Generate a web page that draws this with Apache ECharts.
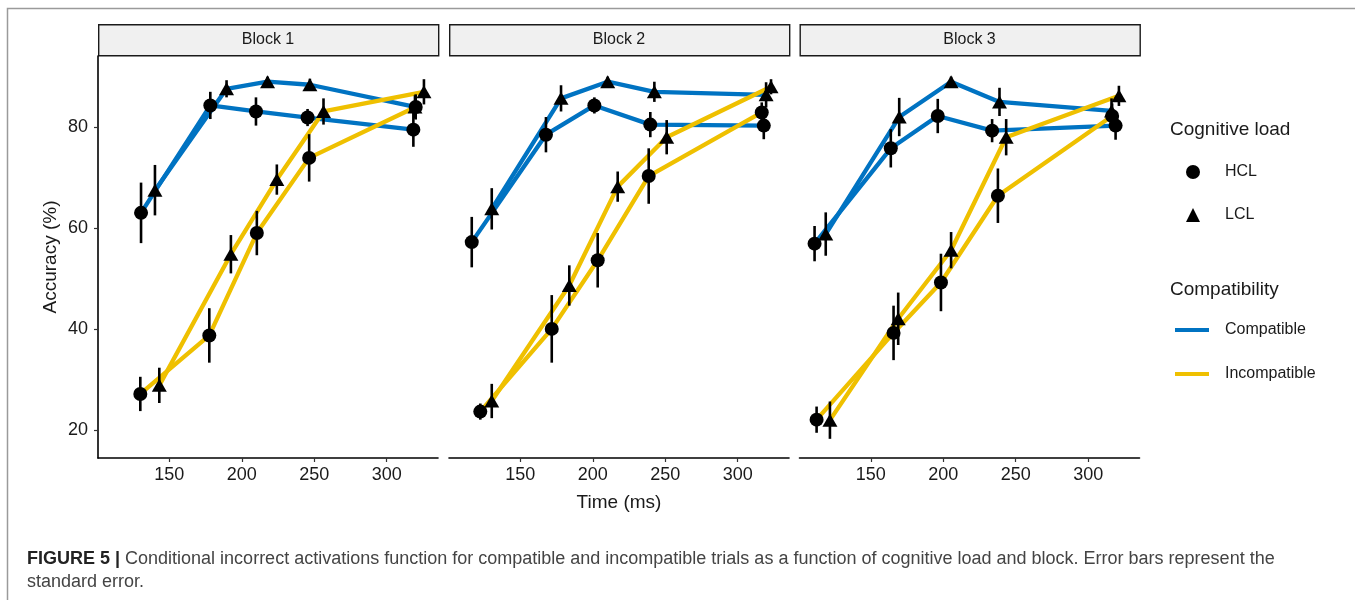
<!DOCTYPE html>
<html>
<head>
<meta charset="utf-8">
<script src="https://cdn.jsdelivr.net/npm/echarts@6/dist/echarts.min.js"></script>
<style>
html,body{margin:0;padding:0;background:#fff;}
#chart{width:1355px;height:600px;}
</style>
</head>
<body>
<div id="chart"></div>
<script>
// ---------------- data ----------------
const blocks = ['Block 1', 'Block 2', 'Block 3'];
const xTicks = [150, 200, 250, 300];
const yTicks = [20, 40, 60, 80];

// time (ms) per bin, per block
const timeCompHCL = [[130.5,178.3,209.8,245.4,318.4],[116.5,167.7,201.1,239.7,318.0],[111.2,163.8,196.2,233.7,318.9]];
const accCompHCL  = [[63.0,84.3,83.1,81.9,79.5],[57.2,78.5,84.3,80.5,80.3],[56.9,75.8,82.2,79.3,80.3]];
const seCompHCL   = [[6.0,2.7,2.8,1.7,3.4],[5.0,3.5,1.6,2.5,2.7],[3.5,3.8,3.4,2.3,2.8]];

const timeCompLCL = [[140.1,189.5,217.8,247.0,319.5],[130.3,178.1,210.3,242.5,319.6],[118.9,169.6,205.4,238.8,316.1]];
const accCompLCL  = [[67.5,87.6,89.0,88.4,84.0],[63.8,85.7,89.0,87.0,86.4],[58.8,82.0,89.0,85.0,83.2]];
const seCompLCL   = [[5.0,1.7,1.0,1.2,2.3],[4.1,2.6,1.0,2.0,2.5],[4.3,3.8,1.0,2.8,2.5]];

const timeIncHCL  = [[130.0,177.6,210.4,246.5,320.0],[122.4,171.7,203.4,238.6,316.6],[112.6,165.7,198.4,237.7,316.5]];
const accIncHCL   = [[27.1,38.7,59.0,73.9,84.0],[23.6,40.0,53.6,70.3,82.9],[22.0,39.2,49.2,66.4,82.2]];
const seIncHCL    = [[3.4,5.4,4.4,4.7,2.5],[1.6,6.7,5.4,5.5,2.0],[2.6,5.4,5.7,5.4,2.5]];

const timeIncLCL  = [[143.1,192.5,224.2,256.4,325.7],[130.3,183.8,217.2,251.0,323.0],[121.8,168.9,205.4,243.4,321.2]];
const accIncLCL   = [[28.8,54.8,69.6,83.1,87.0],[25.7,48.6,68.2,78.0,88.0],[21.9,42.0,55.6,78.0,86.2]];
const seIncLCL    = [[3.5,3.8,3.0,2.6,2.5],[3.4,4.0,3.0,3.4,1.5],[3.7,5.2,3.6,3.6,2.0]];

// ---------------- style / layout ----------------
const BLUE = '#0073C2', YELLOW = '#EFC000';
const FONT = '"Liberation Sans", Arial, Helvetica, sans-serif';
const panelLeft = [98, 449, 799.5];
const panelW = 340, panelTop = 56, panelH = 402;
const XMIN = 100.8, XMAX = 335.4, YMIN = 14.4, YMAX = 94.1;

const conds = [
  {name:'Compatible', load:'HCL', color:BLUE, t:timeCompHCL, a:accCompHCL, s:seCompHCL},
  {name:'Compatible', load:'LCL', color:BLUE, t:timeCompLCL, a:accCompLCL, s:seCompLCL},
  {name:'Incompatible', load:'HCL', color:YELLOW, t:timeIncHCL, a:accIncHCL, s:seIncHCL},
  {name:'Incompatible', load:'LCL', color:YELLOW, t:timeIncLCL, a:accIncLCL, s:seIncLCL}
];

const grids = [], xAxes = [], yAxes = [], series = [], graphics = [];

blocks.forEach((b, bi) => {
  grids.push({left: panelLeft[bi], top: panelTop, width: panelW, height: panelH, containLabel: false});
  xAxes.push({
    type: 'value', gridIndex: bi, min: XMIN, max: XMAX,
    axisLine: {show: true, onZero: false, lineStyle: {color: '#000', width: 1.6}},
    axisTick: {show: true, customValues: xTicks, length: 4, lineStyle: {color: '#333', width: 1.2}},
    axisLabel: {show: true, customValues: xTicks, fontSize: 18, color: '#1a1a1a', margin: 8, fontFamily: FONT},
    splitLine: {show: false},
    name: bi === 1 ? 'Time (ms)' : '',
    nameLocation: 'middle', nameGap: 35,
    nameTextStyle: {fontSize: 19, color: '#1a1a1a', fontFamily: FONT}
  });
  yAxes.push({
    type: 'value', gridIndex: bi, min: YMIN, max: YMAX,
    show: bi === 0,
    axisLine: {show: true, onZero: false, lineStyle: {color: '#000', width: 1.6}},
    axisTick: {show: true, customValues: yTicks, length: 4, lineStyle: {color: '#333', width: 1.2}},
    axisLabel: {show: true, customValues: yTicks, fontSize: 18, color: '#1a1a1a', margin: 10, fontFamily: FONT},
    splitLine: {show: false},
    name: bi === 0 ? 'Accuracy (%)' : '',
    nameLocation: 'middle', nameGap: 38, nameRotate: 90,
    nameTextStyle: {fontSize: 19, color: '#1a1a1a', fontFamily: FONT}
  });

  // lines
  conds.forEach(c => {
    series.push({
      type: 'line', name: c.name, xAxisIndex: bi, yAxisIndex: bi,
      data: c.t[bi].map((t, i) => [t, c.a[bi][i]]),
      showSymbol: false, symbol: 'none', z: 2, silent: true,
      lineStyle: {color: c.color, width: 4.3},
      itemStyle: {color: c.color},
      animation: false
    });
  });
  // error bars
  conds.forEach(c => {
    series.push({
      type: 'custom', xAxisIndex: bi, yAxisIndex: bi, z: 3, silent: true,
      data: c.t[bi].map((t, i) => [t, c.a[bi][i] - c.s[bi][i], c.a[bi][i] + c.s[bi][i]]),
      encode: {x: 0, y: [1, 2]},
      renderItem: function (params, api) {
        const p1 = api.coord([api.value(0), api.value(1)]);
        const p2 = api.coord([api.value(0), api.value(2)]);
        return {type: 'line', shape: {x1: p1[0], y1: p1[1], x2: p2[0], y2: p2[1]},
                style: {stroke: '#000', lineWidth: 2.6}};
      },
      animation: false
    });
  });
  // points
  conds.forEach(c => {
    series.push({
      type: 'scatter', name: c.load, xAxisIndex: bi, yAxisIndex: bi, z: 4, silent: true,
      data: c.t[bi].map((t, i) => [t, c.a[bi][i]]),
      symbol: c.load === 'HCL' ? 'circle' : 'triangle',
      symbolSize: c.load === 'HCL' ? 14 : [15, 13],
      itemStyle: {color: '#000', opacity: 1},
      animation: false
    });
  });

  // facet strip
  graphics.push({
    type: 'rect', left: panelLeft[bi], top: 24,
    shape: {width: panelW, height: 31},
    style: {fill: '#f0f0f0', stroke: '#1a1a1a', lineWidth: 1.4}
  });
  graphics.push({
    type: 'text', x: panelLeft[bi] + panelW / 2, y: 40,
    style: {text: b, fill: '#1a1a1a', font: '16px ' + FONT, textAlign: 'center', textVerticalAlign: 'middle'}
  });
});

// outer frame (left/top edges visible)
graphics.unshift({
  type: 'rect', shape: {x: 7.5, y: 8.5, width: 1500, height: 800},
  style: {fill: 'none', stroke: '#9a9a9a', lineWidth: 1.5}, z: -10
});

const option = {
  backgroundColor: '#fff',
  animation: false,
  grid: grids,
  xAxis: xAxes,
  yAxis: yAxes,
  series: series,
  graphic: graphics,
  title: [
    {text: 'Cognitive load', left: 1170, top: 120, textStyle: {fontSize: 19, fontWeight: 'normal', color: '#1a1a1a', fontFamily: FONT}, padding: 0},
    {text: 'Compatibility', left: 1170, top: 280, textStyle: {fontSize: 19, fontWeight: 'normal', color: '#1a1a1a', fontFamily: FONT}, padding: 0},
    {
      text: '{b|FIGURE 5 |}{n| Conditional incorrect activations function for compatible and incompatible trials as a function of cognitive load and block. Error bars represent the}\n{n|standard error.}',
      left: 27, top: 548, padding: 0,
      textStyle: {
        fontFamily: FONT, fontSize: 18, fontWeight: 'normal', lineHeight: 23,
        rich: {
          b: {fontWeight: 'bold', fontSize: 18, color: '#222', fontFamily: FONT, lineHeight: 23},
          n: {fontWeight: 'normal', fontSize: 18, color: '#444', fontFamily: FONT, lineHeight: 23}
        }
      }
    }
  ],
  legend: [
    {
      data: [{name: 'HCL', icon: 'circle'}, {name: 'LCL', icon: 'triangle'}],
      orient: 'vertical', left: 1186, top: 164, padding: 0,
      itemWidth: 14, itemHeight: 14, itemGap: 27,
      selectedMode: false,
      itemStyle: {opacity: 1},
      textStyle: {fontSize: 16, color: '#1a1a1a', fontFamily: FONT, padding: [0, 0, 0, 20]}
    },
    {
      data: [{name: 'Compatible', icon: 'rect'}, {name: 'Incompatible', icon: 'rect'}],
      orient: 'vertical', left: 1175, top: 322, padding: 0,
      itemWidth: 34, itemHeight: 4, itemGap: 28,
      selectedMode: false,
      textStyle: {fontSize: 16, color: '#1a1a1a', fontFamily: FONT, padding: [0, 0, 0, 11]}
    }
  ]
};

const chart = echarts.init(document.getElementById('chart'), null, {renderer: 'canvas'});
chart.setOption(option);
</script>
</body>
</html>
